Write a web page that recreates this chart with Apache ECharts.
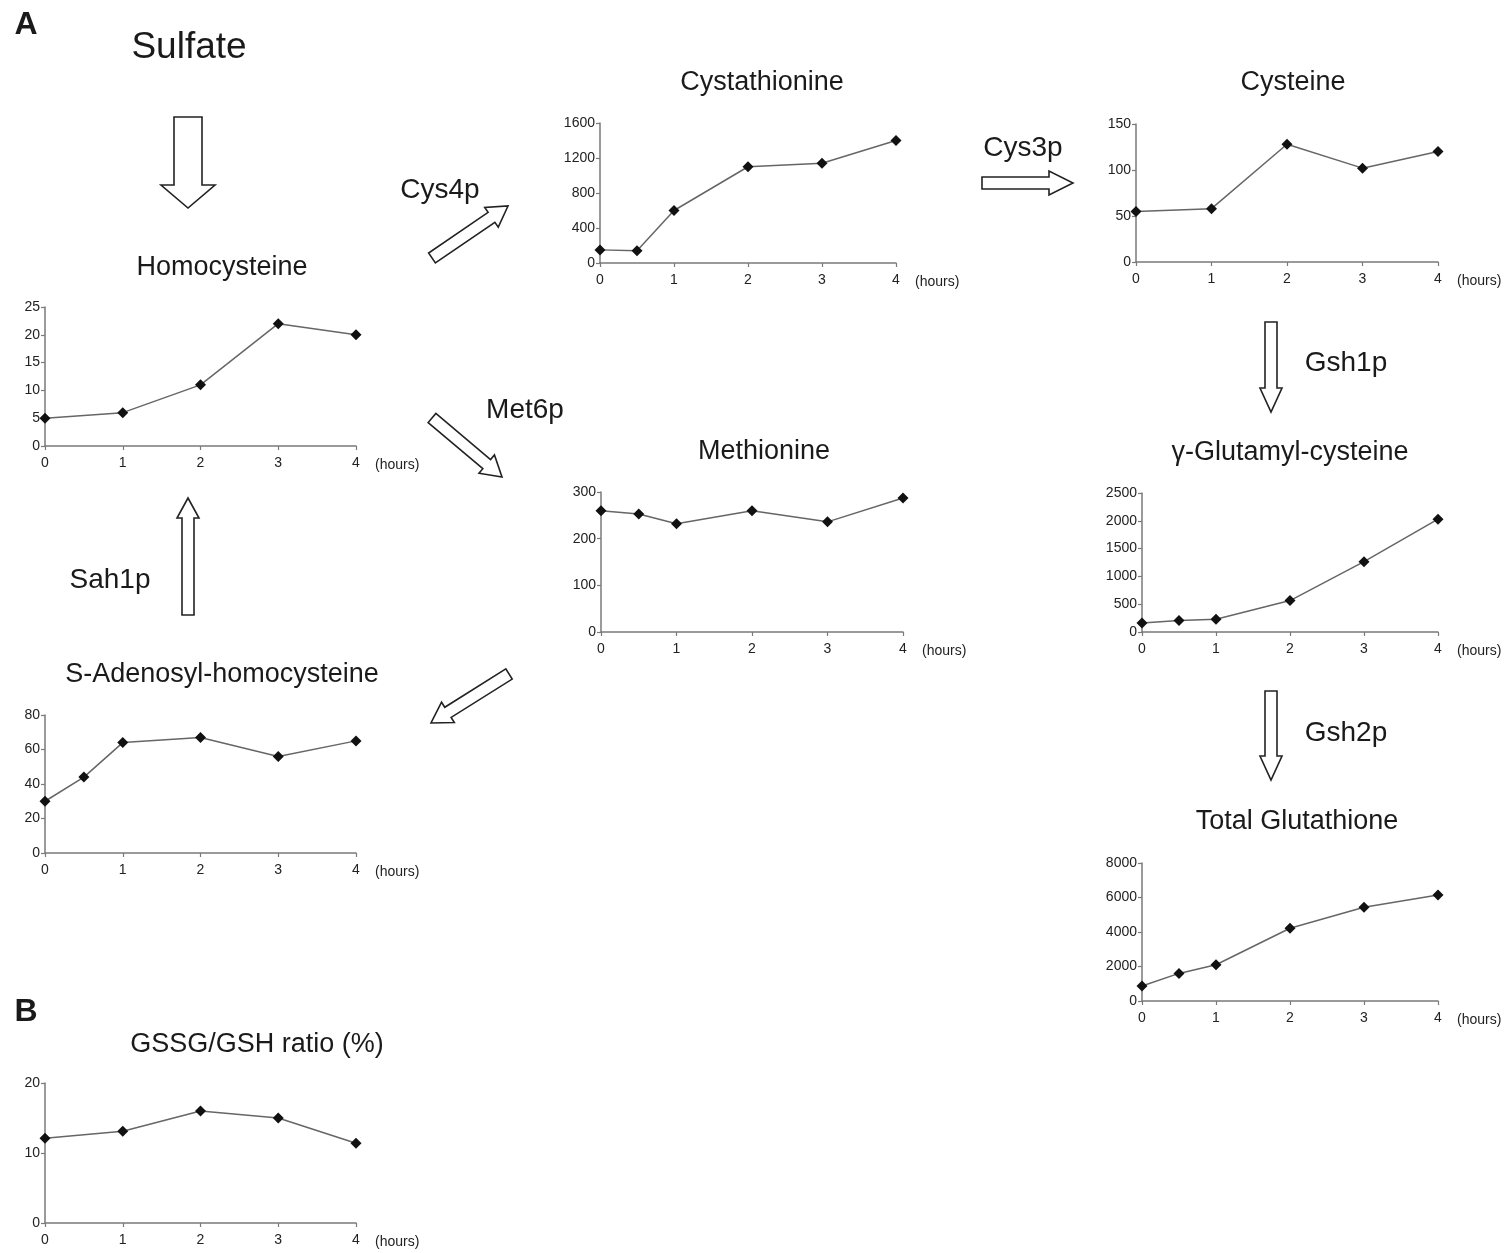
<!DOCTYPE html>
<html>
<head>
<meta charset="utf-8">
<script src="https://cdn.jsdelivr.net/npm/echarts@6/dist/echarts.min.js"></script>
<style>
  html, body { margin: 0; padding: 0; background: #fff; }
  #chart { width: 1512px; height: 1253px; }
</style>
</head>
<body>
<div id="chart"></div>
<script>
// time points (hours)
const hoursFull = [0, 0.5, 1, 2, 3, 4]
const hoursInt = [0, 1, 2, 3, 4]

// metabolite levels
const homocysteine = [5, 6, 11, 22, 20]
const adoHcy = [30, 44, 64, 67, 56, 65]
const gssgRatio = [12.1, 13.1, 16, 15, 11.4]
const cystathionine = [150, 140, 600, 1100, 1140, 1400]
const methionine = [260, 253, 232, 260, 236, 287]
const cysteine = [55, 58, 128, 102, 120]
const glutamylCys = [160, 205, 230, 565, 1265, 2030]
const glutathione = [870, 1600, 2100, 4220, 5440, 6140]

const FONT = '"Liberation Sans", Arial, sans-serif'

// panel layout: grid box, y scale, title position
const panels = [
  { name: 'Homocysteine', x: hoursInt, y: homocysteine, max: 25, step: 5,
    grid: [45, 307, 311, 139], title: [222, 268] },
  { name: 'S-Adenosyl-homocysteine', x: hoursFull, y: adoHcy, max: 80, step: 20,
    grid: [45, 715, 311, 138], title: [222, 675] },
  { name: 'GSSG/GSH ratio (%)', x: hoursInt, y: gssgRatio, max: 20, step: 10,
    grid: [45, 1083, 311, 140], title: [257, 1045] },
  { name: 'Cystathionine', x: hoursFull, y: cystathionine, max: 1600, step: 400,
    grid: [600, 123, 296, 140], title: [762, 83] },
  { name: 'Methionine', x: hoursFull, y: methionine, max: 300, step: 100,
    grid: [601, 492, 302, 140], title: [764, 452] },
  { name: 'Cysteine', x: hoursInt, y: cysteine, max: 150, step: 50,
    grid: [1136, 124, 302, 138], title: [1293, 83] },
  { name: 'γ-Glutamyl-cysteine', x: hoursFull, y: glutamylCys, max: 2500, step: 500,
    grid: [1142, 493, 296, 139], title: [1290, 453] },
  { name: 'Total Glutathione', x: hoursFull, y: glutathione, max: 8000, step: 2000,
    grid: [1142, 863, 296, 138], title: [1297, 822] }
]

// hollow block arrow as polygon points
function arrow(x1, y1, x2, y2, s, h, L) {
  const len = Math.hypot(x2 - x1, y2 - y1)
  const dx = (x2 - x1) / len, dy = (y2 - y1) / len
  const nx = -dy, ny = dx
  const mx = x2 - dx * L, my = y2 - dy * L
  return {
    type: 'polygon',
    shape: { points: [
      [x1 + nx * s, y1 + ny * s],
      [mx + nx * s, my + ny * s],
      [mx + nx * h, my + ny * h],
      [x2, y2],
      [mx - nx * h, my - ny * h],
      [mx - nx * s, my - ny * s],
      [x1 - nx * s, y1 - ny * s]
    ] },
    style: { fill: '#fff', stroke: '#222', lineWidth: 1.6, lineJoin: 'miter' }
  }
}

function label(text, x, y, size, bold) {
  return {
    type: 'text', x: x, y: y,
    style: { text: text, fontSize: size, fontFamily: FONT, fontWeight: bold ? 'bold' : 'normal',
      fill: '#1a1a1a', align: 'center', verticalAlign: 'middle' }
  }
}

const graphics = [
  label('A', 26, 25, 32, true),
  label('B', 26, 1012, 32, true),
  label('Sulfate', 189, 48, 37),
  label('Cys4p', 440, 190, 28),
  label('Cys3p', 1023, 148, 28),
  label('Met6p', 525, 410, 28),
  label('Sah1p', 110, 580, 28),
  label('Gsh1p', 1346, 363, 28),
  label('Gsh2p', 1346, 733, 28),
  arrow(188, 117, 188, 208, 14, 27, 23),
  arrow(432, 258, 508, 206, 6, 12, 20),
  arrow(982, 183, 1073, 183, 6, 12, 24),
  arrow(432, 418, 502, 477, 6, 12, 20),
  arrow(509, 674, 431, 723, 6, 12, 20),
  arrow(188, 615, 188, 498, 6, 11, 20),
  arrow(1271, 322, 1271, 412, 6, 11, 24),
  arrow(1271, 691, 1271, 780, 6, 11, 24)
]

panels.forEach(p => graphics.push(label(p.name, p.title[0], p.title[1], 27)))

const axisLine = { lineStyle: { color: '#7a7a7a', width: 1.5 } }
const axisTick = { show: true, length: 4, lineStyle: { color: '#7a7a7a', width: 1.2 } }
const plain = v => String(v)

const chart = echarts.init(document.getElementById('chart'))
chart.setOption({
  animation: false,
  backgroundColor: '#fff',
  grid: panels.map(p => ({ left: p.grid[0], top: p.grid[1], width: p.grid[2], height: p.grid[3] })),
  xAxis: panels.map((p, i) => ({
    type: 'value', gridIndex: i, min: 0, max: 4, interval: 1,
    name: '(hours)', nameLocation: 'end', nameGap: 19,
    nameTextStyle: { fontSize: 14, fontFamily: FONT, color: '#222', verticalAlign: 'top', padding: [12, 0, 0, 0] },
    axisLine: axisLine, axisTick: axisTick, splitLine: { show: false },
    axisLabel: { fontSize: 14, fontFamily: FONT, color: '#222', margin: 10, formatter: plain }
  })),
  yAxis: panels.map((p, i) => ({
    type: 'value', gridIndex: i, min: 0, max: p.max, interval: p.step,
    axisLine: { show: true, lineStyle: axisLine.lineStyle }, axisTick: axisTick, splitLine: { show: false },
    axisLabel: { fontSize: 14, fontFamily: FONT, color: '#222', margin: 5, formatter: plain }
  })),
  series: panels.map((p, i) => ({
    type: 'line', xAxisIndex: i, yAxisIndex: i,
    data: p.x.map((h, k) => [h, p.y[k]]),
    symbol: 'diamond', symbolSize: 11,
    itemStyle: { color: '#111' },
    lineStyle: { color: '#666', width: 1.5 }
  })),
  graphic: graphics
})
window.addEventListener('resize', () => chart.resize())
</script>
</body>
</html>
